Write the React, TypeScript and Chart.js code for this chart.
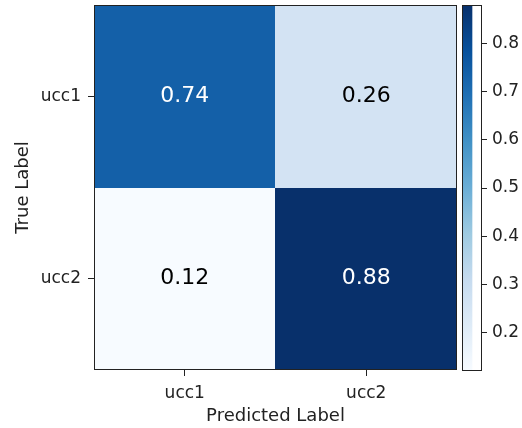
import React, { useEffect, useRef } from 'react';
import { Chart, registerables } from 'chart.js';

Chart.register(...registerables);

const W = 522;
const H = 428;

const rowLabels = ['ucc1', 'ucc2'];
const colLabels = ['ucc1', 'ucc2'];
const ucc1Row = [0.74, 0.26];
const ucc2Row = [0.12, 0.88];
const matrix = [ucc1Row, ucc2Row];
const colorbarTicks = [0.2, 0.3, 0.4, 0.5, 0.6, 0.7, 0.8];
const bluesStops = ['#f7fbff', '#deebf7', '#c6dbef', '#9ecae1', '#6baed6', '#4292c6', '#2171b5', '#08519c', '#08306b'];

const allVals = matrix.flat();
const vmin = Math.min(...allVals);
const vmax = Math.max(...allVals);
const FONT = "'DejaVu Sans', sans-serif";
const TEXT = '#222';

function hexToRgb(h: string) {
  const n = parseInt(h.slice(1), 16);
  return [(n >> 16) & 255, (n >> 8) & 255, n & 255];
}
function blues(t: number) {
  const c = Math.max(0, Math.min(1, t)) * (bluesStops.length - 1);
  const i = Math.min(Math.floor(c), bluesStops.length - 2);
  const f = c - i;
  const a = hexToRgb(bluesStops[i]);
  const b = hexToRgb(bluesStops[i + 1]);
  const m = a.map((v, k) => Math.round(v + (b[k] - v) * f));
  return `rgb(${m[0]},${m[1]},${m[2]})`;
}
const colorFor = (v: number) => blues((v - vmin) / (vmax - vmin));

const framePlugin = {
  id: 'frame',
  afterDraw(chart: any) {
    const { ctx, chartArea: a } = chart;
    ctx.save();
    ctx.strokeStyle = '#222';
    ctx.lineWidth = 1;
    ctx.strokeRect(Math.round(a.left) + 0.5, Math.round(a.top) + 0.5, Math.round(a.right - a.left) - 1, Math.round(a.bottom - a.top) - 1);
    ctx.restore();
  },
};

const cellTextPlugin = {
  id: 'cellText',
  afterDatasetsDraw(chart: any) {
    const { ctx, scales } = chart;
    ctx.save();
    ctx.font = `22px ${FONT}`;
    ctx.textAlign = 'center';
    ctx.textBaseline = 'middle';
    const thresh = (vmin + vmax) / 2;
    matrix.forEach((row, r) => {
      row.forEach((v, c) => {
        const x = scales.x.getPixelForValue(c);
        const y = scales.y.getPixelForValue(r);
        ctx.fillStyle = v > thresh ? '#ffffff' : '#000000';
        ctx.fillText(v.toFixed(2), x, y);
      });
    });
    ctx.restore();
  },
};

const noPad = (s: any) => {
  s.paddingTop = 0;
  s.paddingBottom = 0;
};

export default function App() {
  const mainRef = useRef<HTMLCanvasElement>(null);
  const barRef = useRef<HTMLCanvasElement>(null);

  useEffect(() => {
    const main = new Chart(mainRef.current!, {
      type: 'bar',
      data: {
        labels: colLabels,
        datasets: matrix.map((row, r) => ({
          label: rowLabels[r],
          data: row.map(() => [r - 0.5, r + 0.5]) as any,
          backgroundColor: row.map(colorFor),
          borderWidth: 0,
          barPercentage: 1,
          categoryPercentage: 1,
          grouped: false,
          inflateAmount: 0.5,
        })),
      },
      options: {
        responsive: false,
        animation: false,
        devicePixelRatio: 1,
        layout: { padding: { left: 0, top: 5, right: 65, bottom: 0 } },
        plugins: { legend: { display: false }, tooltip: { enabled: false } },
        scales: {
          x: {
            type: 'category',
            offset: true,
            grid: { display: true, drawOnChartArea: false, drawTicks: true, tickLength: 6, color: '#222', offset: false },
            border: { display: false },
            ticks: { color: TEXT, font: { family: FONT, size: 17 }, padding: 7, maxRotation: 0 },
            title: { display: true, text: 'Predicted Label', color: TEXT, font: { family: FONT, size: 18 }, padding: { top: 0, bottom: 1 } },
            afterFit: (s: any) => { s.height = 58; s.paddingLeft = 0; s.paddingRight = 0; },
          },
          y: {
            type: 'linear',
            min: -0.5,
            max: 1.5,
            reverse: true,
            afterBuildTicks: (s: any) => { s.ticks = rowLabels.map((_, i) => ({ value: i })); },
            grid: { display: true, drawOnChartArea: false, drawTicks: true, tickLength: 6, color: '#222' },
            border: { display: false },
            ticks: { color: TEXT, font: { family: FONT, size: 17 }, padding: 7, callback: (v: any) => rowLabels[v] ?? '' },
            title: { display: true, text: 'True Label', color: TEXT, font: { family: FONT, size: 18 }, padding: { top: 13, bottom: 0 } },
            afterFit: (s: any) => { s.width = 94; noPad(s); },
          },
        },
      },
      plugins: [cellTextPlugin, framePlugin],
    });

    const cb = new Chart(barRef.current!, {
      type: 'bar',
      data: {
        labels: ['scale'],
        datasets: [{
          data: [[vmin, vmax]] as any,
          backgroundColor: (ctx: any) => {
            const a = ctx.chart.chartArea;
            if (!a) return bluesStops[4];
            const g = ctx.chart.ctx.createLinearGradient(0, a.bottom, 0, a.top);
            bluesStops.forEach((c, i) => g.addColorStop(i / (bluesStops.length - 1), c));
            return g;
          },
          borderWidth: 0,
          barPercentage: 1,
          categoryPercentage: 1,
        }],
      },
      options: {
        responsive: false,
        animation: false,
        devicePixelRatio: 1,
        layout: { padding: { left: 462, top: 5, right: 0, bottom: 57 } },
        plugins: { legend: { display: false }, tooltip: { enabled: false } },
        scales: {
          x: { display: false, offset: false },
          y: {
            type: 'linear',
            position: 'right',
            min: vmin,
            max: vmax,
            afterBuildTicks: (s: any) => { s.ticks = colorbarTicks.map((v) => ({ value: v })); },
            grid: { display: true, drawOnChartArea: false, drawTicks: true, tickLength: 5, color: '#222' },
            border: { display: false },
            ticks: { color: TEXT, font: { family: FONT, size: 17 }, padding: 5, callback: (v: any) => Number(v).toFixed(1) },
            afterFit: (s: any) => { s.width = 40; noPad(s); },
          },
        },
      },
      plugins: [framePlugin],
    });

    return () => { main.destroy(); cb.destroy(); };
  }, []);

  return (
    <div style={{ position: 'fixed', left: 0, top: 0, width: W, height: H, background: '#fff' }}>
      <canvas ref={mainRef} width={W} height={H} style={{ position: 'absolute', left: 0, top: 0 }} />
      <canvas ref={barRef} width={W} height={H} style={{ position: 'absolute', left: 0, top: 0 }} />
    </div>
  );
}
